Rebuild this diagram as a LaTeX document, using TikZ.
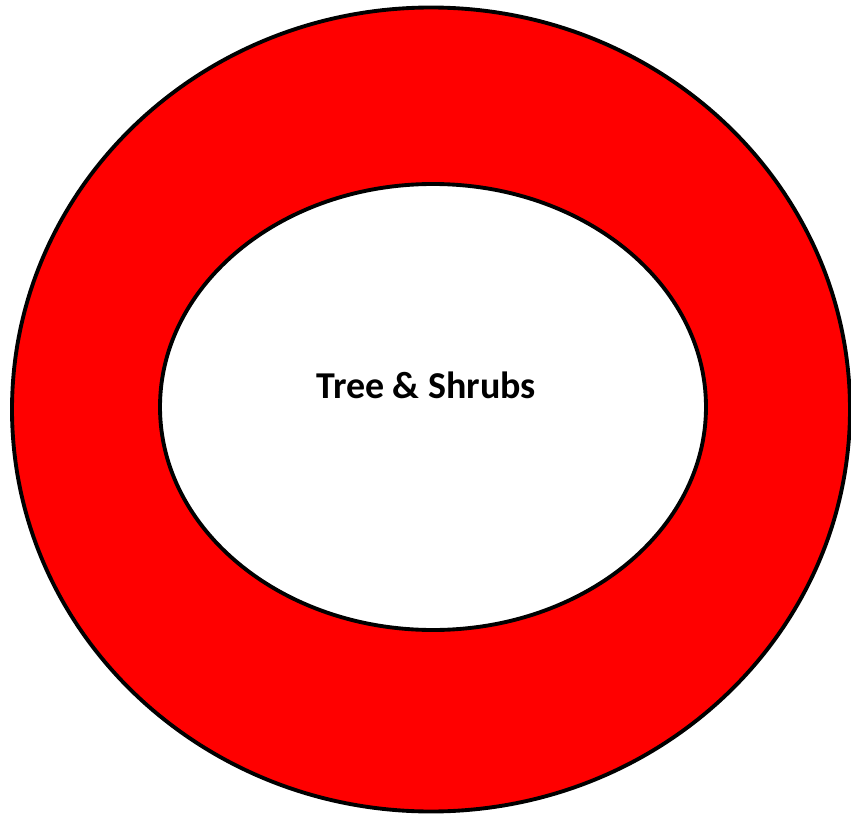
\documentclass[tikz,border=0pt]{standalone}
\usepackage{fontspec}
\setmainfont{Carlito}
\usepackage{tikz}
\usetikzlibrary{shapes,positioning}

\begin{document}
\begin{tikzpicture}[
    ring/.style={ellipse, draw, line width=1.1pt, fill=red, minimum width=8.38cm, minimum height=8.04cm, inner sep=0pt},
    core/.style={ellipse, draw, line width=1.1pt, fill=white, minimum width=5.46cm, minimum height=4.46cm, inner sep=0pt},
    label/.style={font=\fontsize{10.8}{13}\selectfont\bfseries}
]
\useasboundingbox (0, 0) rectangle (8.51, 8.16);

% Outer ring
\node[ring] (outer) at (4.31, 4.065) {};

% Inner area
\node[core] (inner) at (4.33, 4.09) {};

% Label
\node[label] (name) at (4.26, 4.31) {Tree \& Shrubs};

\end{tikzpicture}
\end{document}
